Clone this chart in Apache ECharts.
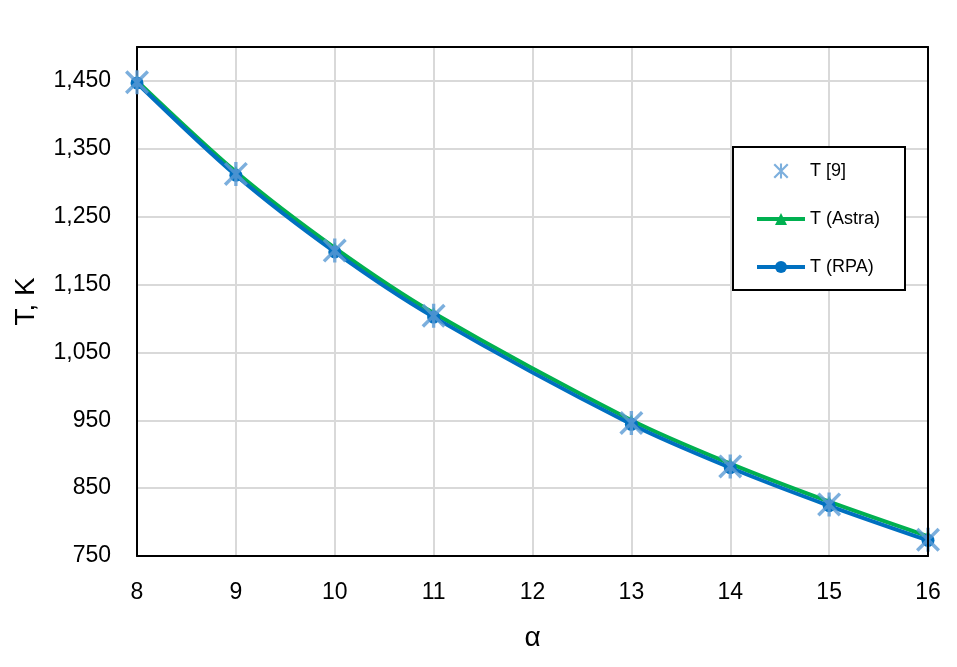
<!DOCTYPE html>
<html>
<head>
<meta charset="utf-8">
<script src="https://cdn.jsdelivr.net/npm/echarts@6/dist/echarts.min.js"></script>
<style>html,body{margin:0;padding:0;background:#fff}#c{width:957px;height:667px}</style>
</head>
<body>
<div id="c"></div>
<script>
const alpha = [8, 9, 10, 11, 13, 14, 15, 16];
const tRef = [1448, 1313, 1200, 1104, 946, 882, 826, 774];
const tAstra = [1450, 1316, 1204, 1108, 950, 886, 830, 779];
const tRPA = [1447, 1311, 1198, 1102, 944, 880, 824, 773];
const seriesNames = ['T [9]', 'T (Astra)', 'T (RPA)'];

const pair = (xs, ys) => xs.map((x, i) => [x, ys[i]]);
const star = 'path://M7.9 6.3 L6.3 7.9 L-7.9 -6.3 L-6.3 -7.9 Z M-6.3 7.9 L-7.9 6.3 L6.3 -7.9 L7.9 -6.3 Z M-1.1 -7.9 L1.1 -7.9 L1.1 7.9 L-1.1 7.9 Z';
const font = 'Liberation Sans';
const blackLine = { show: true, onZero: false, lineStyle: { color: '#000', width: 2 } };

const chart = echarts.init(document.getElementById('c'));
chart.setOption({
  backgroundColor: '#ffffff',
  animation: false,
  textStyle: { fontFamily: font },
  grid: { left: 137, right: 29, top: 47, bottom: 111, containLabel: false },
  legend: {
    orient: 'vertical', left: 733, top: 147,
    padding: [15, 25, 14, 22],
    borderColor: '#000', borderWidth: 2, backgroundColor: '#fff',
    itemWidth: 48, itemHeight: 15, itemGap: 30,
    textStyle: { fontFamily: font, fontSize: 18, color: '#000' },
    data: [
      { name: seriesNames[0] },
      { name: seriesNames[1], lineStyle: { width: 4 } },
      { name: seriesNames[2], lineStyle: { width: 4 } }
    ]
  },
  xAxis: [{
    type: 'value', min: 8, max: 16, interval: 1,
    name: 'α', nameLocation: 'middle', nameGap: 68,
    nameTextStyle: { fontFamily: font, fontSize: 28, color: '#000' },
    axisLine: blackLine,
    axisTick: { show: false },
    axisLabel: { margin: 25, fontSize: 23, color: '#000', fontFamily: font },
    splitLine: { show: true, lineStyle: { color: '#d9d9d9', width: 2 } }
  }, {
    type: 'value', min: 8, max: 16, position: 'top', z: 5,
    axisLine: blackLine, axisTick: { show: false }, axisLabel: { show: false }, splitLine: { show: false }
  }],
  yAxis: [{
    type: 'value', min: 750, max: 1500, interval: 100,
    name: 'T, K', nameLocation: 'middle', nameGap: 97,
    nameTextStyle: { fontFamily: font, fontSize: 28, color: '#000' },
    axisLine: blackLine,
    axisTick: { show: false },
    axisLabel: { margin: 26, fontSize: 23, color: '#000', fontFamily: font, showMaxLabel: false,
      formatter: v => v.toLocaleString('en-US') },
    splitLine: { show: true, lineStyle: { color: '#d9d9d9', width: 2 } }
  }, {
    type: 'value', min: 750, max: 1500, position: 'right', z: 5,
    axisLine: blackLine, axisTick: { show: false }, axisLabel: { show: false }, splitLine: { show: false }
  }],
  series: [
    {
      name: 'T (Astra)', type: 'line', smooth: 0.3, data: pair(alpha, tAstra), z: 2,
      symbol: 'triangle', symbolSize: 12,
      lineStyle: { color: '#00B050', width: 4 },
      itemStyle: { color: '#00B050' }
    },
    {
      name: 'T (RPA)', type: 'line', smooth: 0.3, data: pair(alpha, tRPA), z: 3,
      symbol: 'circle', symbolSize: 13,
      lineStyle: { color: '#0070C0', width: 4 },
      itemStyle: { color: '#0070C0' }
    },
    {
      name: 'T [9]', type: 'scatter', data: pair(alpha, tRef), z: 4,
      symbol: star, symbolSize: 24, symbolKeepAspect: true,
      itemStyle: { color: '#5B9BD5' }
    }
  ]
});
</script>
</body>
</html>
